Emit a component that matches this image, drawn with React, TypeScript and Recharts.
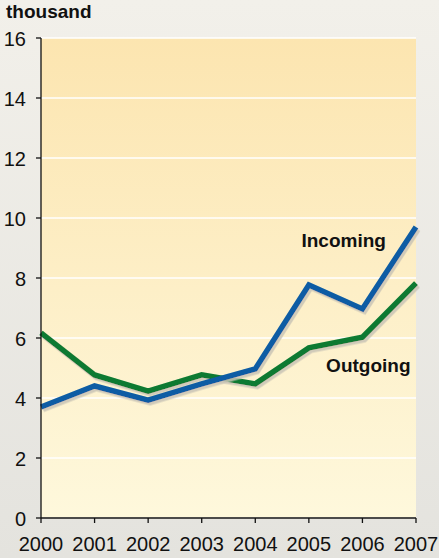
import React from 'react';
import { LineChart, Line, XAxis, YAxis, CartesianGrid, ReferenceDot } from 'recharts';

const years = [2000, 2001, 2002, 2003, 2004, 2005, 2006, 2007];
const incoming = [3.7, 4.4, 3.93, 4.47, 4.97, 7.77, 6.97, 9.7];
const outgoing = [6.17, 4.77, 4.23, 4.77, 4.47, 5.67, 6.03, 7.83];
const yTicks = [0, 2, 4, 6, 8, 10, 12, 14, 16];
const unitLabel = 'thousand';
const incomingLabel = 'Incoming';
const outgoingLabel = 'Outgoing';

const data = years.map((year, i) => ({ year, incoming: incoming[i], outgoing: outgoing[i] }));

const FONT = 'Arial, "Liberation Sans", Helvetica, sans-serif';

const YTick = (props: any) => {
  const { x, y, payload } = props;
  return (
    <text x={x} y={y + 8} textAnchor="end" fontSize={20} fontFamily={FONT} fill="#111">
      {payload.value}
    </text>
  );
};

const XTick = (props: any) => {
  const { x, y, payload } = props;
  return (
    <text x={x} y={y + 26} textAnchor="middle" fontSize={20} fontFamily={FONT} fill="#111">
      {payload.value}
    </text>
  );
};

export default function App() {
  return (
    <div
      style={{
        position: 'absolute',
        left: 0,
        top: 0,
        width: 439,
        height: 558,
        background: 'linear-gradient(#f2f0ea, #e4e3de)',
        overflow: 'hidden',
      }}
    >
      <div
        style={{
          position: 'absolute',
          left: 6,
          top: 1,
          fontFamily: FONT,
          fontWeight: 'bold',
          fontSize: 19,
          color: '#111',
          lineHeight: 'normal',
        }}
      >
        {unitLabel}
      </div>
      <LineChart
        width={439}
        height={558}
        data={data}
        margin={{ top: 38, right: 23, left: 0, bottom: 0 }}
      >
        <defs>
          <linearGradient id="plotBg" x1="0" y1="0" x2="0" y2="1">
            <stop offset="0%" stopColor="#fce5b0" />
            <stop offset="100%" stopColor="#fef8dc" />
          </linearGradient>
          <filter id="lineShadow" filterUnits="userSpaceOnUse" x="0" y="0" width="439" height="558">
            <feDropShadow dx="2" dy="2.5" stdDeviation="0.7" floodColor="#c9c4b6" floodOpacity="0.85" />
          </filter>
        </defs>
        <CartesianGrid vertical={false} stroke="#ffffff" strokeWidth={1.5} fill="url(#plotBg)" fillOpacity={1} />
        <XAxis
          dataKey="year"
          type="number"
          domain={[2000, 2007]}
          ticks={years}
          height={40}
          tickSize={5}
          tickMargin={2}
          axisLine={{ stroke: '#111', strokeWidth: 1.3 }}
          tickLine={{ stroke: '#111', strokeWidth: 1.3 }}
          tick={<XTick />}
          interval={0}
        />
        <YAxis
          domain={[0, 16]}
          ticks={yTicks}
          width={41}
          tickSize={5}
          tickMargin={10}
          axisLine={{ stroke: '#111', strokeWidth: 1.3 }}
          tickLine={{ stroke: '#111', strokeWidth: 1.3 }}
          tick={<YTick />}
          interval={0}
        />
        <Line
          type="linear"
          dataKey="outgoing"
          stroke="#0a7a32"
          strokeWidth={5.5}
          dot={false}
          activeDot={false}
          strokeLinejoin="miter"
          strokeLinecap="butt"
          filter="url(#lineShadow)"
          isAnimationActive={false}
        />
        <Line
          type="linear"
          dataKey="incoming"
          stroke="#0a5ca4"
          strokeWidth={5.5}
          dot={false}
          activeDot={false}
          strokeLinejoin="miter"
          strokeLinecap="butt"
          filter="url(#lineShadow)"
          isAnimationActive={false}
        />
        <ReferenceDot
          x={2005.65}
          y={9.27}
          r={0}
          fill="none"
          stroke="none"
          label={{ value: incomingLabel, position: 'center', fontSize: 19, fontWeight: 'bold', fontFamily: FONT, fill: '#111' }}
        />
        <ReferenceDot
          x={2006.11}
          y={5.1}
          r={0}
          fill="none"
          stroke="none"
          label={{ value: outgoingLabel, position: 'center', fontSize: 19, fontWeight: 'bold', fontFamily: FONT, fill: '#111' }}
        />
      </LineChart>
    </div>
  );
}
